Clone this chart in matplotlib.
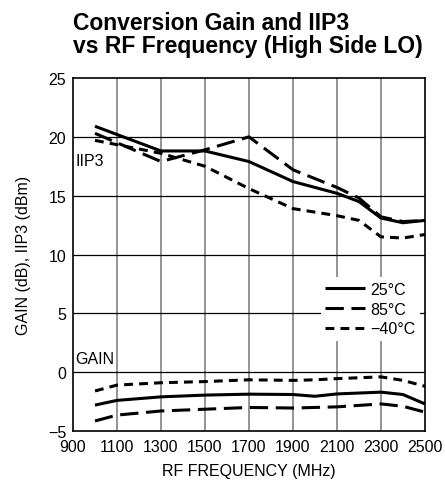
import matplotlib
matplotlib.use('Agg')
import matplotlib.pyplot as plt
from matplotlib import font_manager

# condensed font if present
names = {f.name for f in font_manager.fontManager.ttflist}
FONT = 'Liberation Sans Narrow' if 'Liberation Sans Narrow' in names else 'Liberation Sans'
plt.rcParams['font.family'] = [FONT, 'DejaVu Sans']

# IIP3 (dBm) vs RF frequency
freq_iip3 = [1000, 1300, 1500, 1700, 1900, 2100, 2200, 2300, 2400, 2500]
iip3_25 = [20.9, 18.8, 18.8, 17.9, 16.2, 15.2, 14.5, 13.1, 12.7, 12.9]
iip3_85 = [20.3, 17.9, 18.9, 20.0, 17.2, 15.7, 14.8, 13.2, 12.8, 12.9]
iip3_m40 = [19.7, 18.6, 17.5, 15.6, 13.9, 13.3, 12.9, 11.5, 11.4, 11.7]

# conversion gain (dB)
freq_gain = [1000, 1100, 1300, 1500, 1700, 1900, 2000, 2100, 2300, 2400, 2500]
gain_25 = [-2.8, -2.4, -2.1, -1.95, -1.87, -1.9, -2.05, -1.85, -1.7, -1.9, -2.7]
gain_85 = [-4.15, -3.65, -3.3, -3.15, -3.0, -3.05, -3.0, -2.95, -2.7, -2.9, -3.4]
gain_m40 = [-1.6, -1.1, -0.9, -0.8, -0.65, -0.7, -0.65, -0.55, -0.4, -0.7, -1.2]

xticks = [900, 1100, 1300, 1500, 1700, 1900, 2100, 2300, 2500]
yticks = [-5, 0, 5, 10, 15, 20, 25]
ytick_labels = ['\u22125', '0', '5', '10', '15', '20', '25']

styles = {
    '25°C': dict(linestyle='-'),
    '85°C': dict(linestyle=(0, (6, 2.5))),
    '\u221240°C': dict(linestyle=(0, (2.9, 2.0))),
}

fig = plt.figure(figsize=(4.45, 4.89), dpi=100)
ax = fig.add_axes([0.164, 0.1166, 0.791, 0.7218])

series = [('25°C', iip3_25, gain_25), ('85°C', iip3_85, gain_85),
          ('\u221240°C', iip3_m40, gain_m40)]
for name, iip3, gain in series:
    ax.plot(freq_iip3, iip3, color='black', lw=2.2, label=name,
            solid_capstyle='butt', dash_capstyle='butt', **styles[name])
    ax.plot(freq_gain, gain, color='black', lw=2.2,
            solid_capstyle='butt', dash_capstyle='butt', **styles[name])

ax.set_xlim(900, 2500)
ax.set_ylim(-5, 25)
ax.set_xticks(xticks)
ax.set_yticks(yticks)
ax.set_yticklabels(ytick_labels)
ax.tick_params(axis='x', length=0, labelsize=11.5, pad=6)
ax.tick_params(axis='y', length=0, labelsize=11.5, pad=5)
for v in xticks[1:-1]:
    ax.axvline(v, color='#777777', lw=1.1, zorder=0)
for v in yticks[1:-1]:
    ax.axhline(v, color='black', lw=0.9, zorder=0)
for s in ax.spines.values():
    s.set_linewidth(1.2)

ax.text(910, 18.0, 'IIP3', fontsize=11.5, va='center')
ax.text(910, 1.2, 'GAIN', fontsize=11.5, va='center')

leg = ax.legend(loc='upper right', bbox_to_anchor=(1.0, 0.45), fontsize=11.5,
                frameon=True, fancybox=False, framealpha=1, edgecolor='none',
                handlelength=2.5, handletextpad=0.3, labelspacing=0.3,
                borderpad=0.3, borderaxespad=0.3)
leg.set_zorder(5)

ax.set_xlabel('RF FREQUENCY (MHz)', fontsize=11.5, labelpad=6)
ax.set_ylabel('GAIN (dB), IIP3 (dBm)', fontsize=11.5, labelpad=12)

fig.text(0.164, 0.975, 'Conversion Gain and IIP3\nvs RF Frequency (High Side LO)',
         fontsize=16.5, fontweight='bold', va='top', ha='left', linespacing=1.0)

fig.savefig('out.png', dpi=100)
